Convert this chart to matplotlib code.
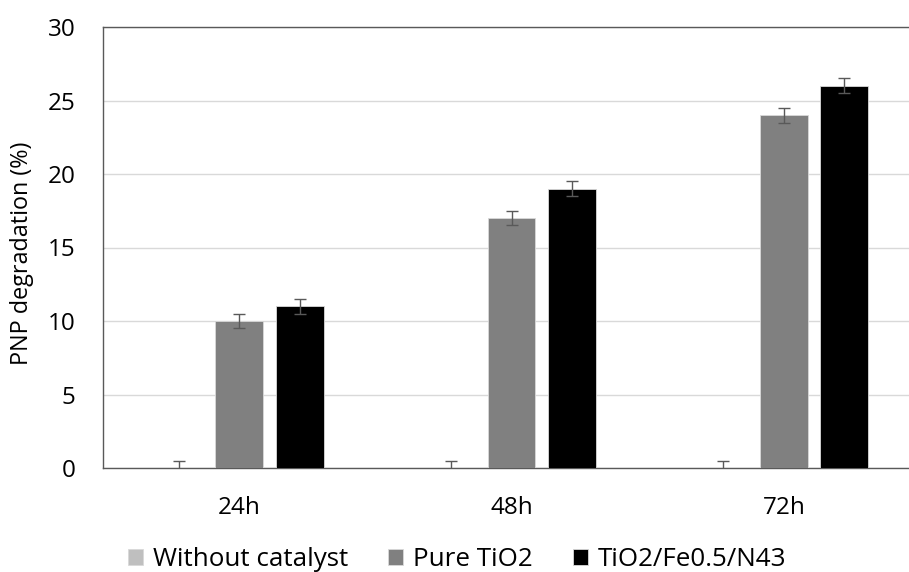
import numpy as np
import matplotlib.pyplot as plt

plt.rcParams['font.family'] = ['Open Sans', 'DejaVu Sans']

times = ['24h', '48h', '72h']
series = ['Without catalyst', 'Pure TiO2', 'TiO2/Fe0.5/N43']
without_cat = [0, 0, 0]
pure_tio2 = [10, 17, 24]
fe_n = [11, 19, 26]
err_without = [0.5, 0.5, 0.5]
err_pure = [0.5, 0.5, 0.5]
err_fe = [0.5, 0.5, 0.5]

colors = ['#bfbfbf', '#808080', '#000000']

fig = plt.figure(figsize=(9.09, 5.72), dpi=100)
ax = fig.add_axes([103 / 909, 1 - 468 / 572, (920 - 103) / 909, (468 - 27) / 572])

x = np.arange(len(times))
w = 0.176
off = 0.222
vals = [without_cat, pure_tio2, fe_n]
errs = [err_without, err_pure, err_fe]
for i, (v, e, c, lab) in enumerate(zip(vals, errs, colors, series)):
    ax.bar(x + (i - 1) * off, v, w, color=c, label=lab, edgecolor='#d9d9d9', linewidth=0.6,
           yerr=e, error_kw=dict(ecolor='#595959', elinewidth=1, capsize=4, capthick=1), zorder=3)

ax.set_xlim(-0.5, 2.5)
ax.set_ylim(0, 30)
ax.set_yticks(range(0, 31, 5))
ax.set_xticks(x)
ax.set_xticklabels(times)
ax.tick_params(axis='both', length=0, labelsize=17.5, colors='#000000')
ax.tick_params(axis='x', pad=20)
ax.tick_params(axis='y', pad=20)
ax.grid(axis='y', color='#d9d9d9', linewidth=1, zorder=0)
for s in ['left', 'top', 'bottom', 'right']:
    ax.spines[s].set_color('#595959')
    ax.spines[s].set_linewidth(1)
ax.set_ylabel('PNP degradation (%)', fontsize=16.8, labelpad=8)
ax.yaxis.set_label_coords(-0.085, 0.487)

fig.legend(loc='center', bbox_to_anchor=(0.503, 1 - 560 / 572), ncol=3, frameon=False,
           fontsize=18.7, handlelength=0.58, handleheight=0.58, handletextpad=0.39,
           columnspacing=1.54)

fig.savefig('out.png', dpi=100)
